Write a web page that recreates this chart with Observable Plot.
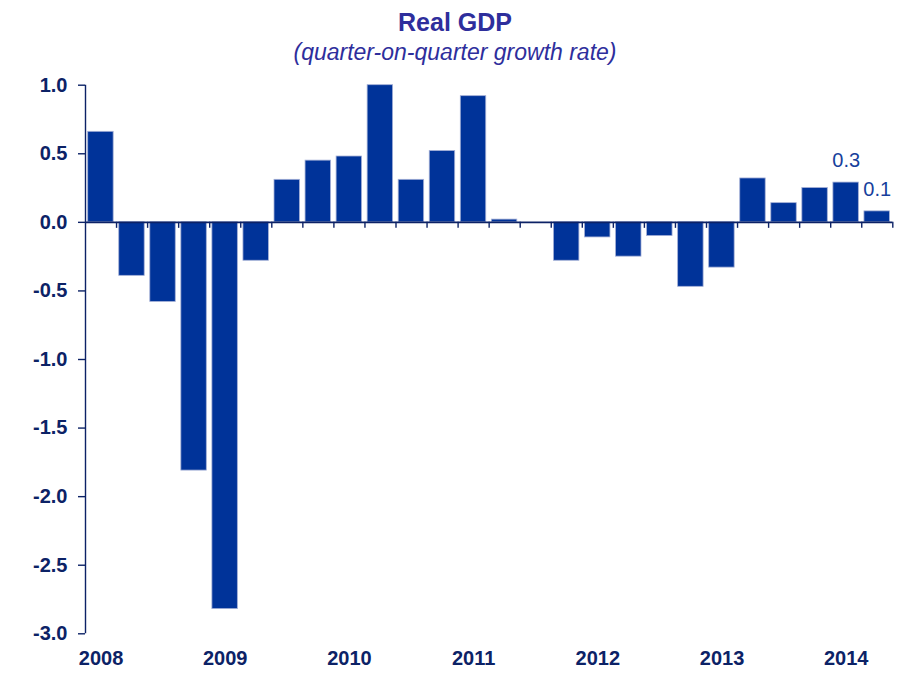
<!DOCTYPE html>
<html>
<head>
<meta charset="utf-8">
<script src="https://cdn.jsdelivr.net/npm/d3@7"></script>
<script src="https://cdn.jsdelivr.net/npm/@observablehq/plot@0.6"></script>
<style>
  html, body { margin: 0; padding: 0; background: #fff; }
  #wrap { position: relative; width: 902px; height: 673px; font-family: Arial, "Liberation Sans", sans-serif; }
  #title { position: absolute; left: 0; width: 910px; top: 6px; text-align: center; font-size: 25px; font-weight: bold; color: #2e2e9c; line-height: 32px; }
  #subtitle { position: absolute; left: 0; width: 910px; top: 37px; text-align: center; font-size: 23px; font-style: italic; color: #2e2e9c; line-height: 30px; }
  #chart { position: absolute; left: 0; top: 0; }
</style>
</head>
<body>
<div id="wrap">
  <div id="chart"></div>
  <div id="title">Real GDP</div>
  <div id="subtitle">(quarter-on-quarter growth rate)</div>
</div>
<script>
const quarters = [
  "2008Q1","2008Q2","2008Q3","2008Q4",
  "2009Q1","2009Q2","2009Q3","2009Q4",
  "2010Q1","2010Q2","2010Q3","2010Q4",
  "2011Q1","2011Q2","2011Q3","2011Q4",
  "2012Q1","2012Q2","2012Q3","2012Q4",
  "2013Q1","2013Q2","2013Q3","2013Q4",
  "2014Q1","2014Q2"
];
const growth = [
  0.66, -0.39, -0.58, -1.81,
  -2.82, -0.28, 0.31, 0.45,
  0.48, 1.00, 0.31, 0.52,
  0.92, 0.02, 0.00, -0.28,
  -0.11, -0.25, -0.10, -0.47,
  -0.33, 0.32, 0.14, 0.25,
  0.29, 0.08
];
const yearLabels = ["2008","2009","2010","2011","2012","2013","2014"];
const yTicks = [1.0, 0.5, 0.0, -0.5, -1.0, -1.5, -2.0, -2.5, -3.0];
const labelQuarters = ["2014Q1", "2014Q2"];
const labelTexts = ["0.3", "0.1"];

const data = quarters.map((q, i) => ({q, i, v: growth[i]}));
const boundaries = d3.range(1, quarters.length + 1);
const yearPos = yearLabels.map(y => quarters.indexOf(y + "Q1") + 0.5);
const labels = labelQuarters.map((q, k) => ({i: quarters.indexOf(q), v: growth[quarters.indexOf(q)], t: labelTexts[k]}));

const navy = "#0c2266";

const chart = Plot.plot({
  width: 902,
  height: 673,
  marginTop: 84.7,
  marginBottom: 39.7,
  marginLeft: 85,
  marginRight: 9.7,
  style: {fontFamily: "Arial, 'Liberation Sans', sans-serif", background: "transparent"},
  x: {type: "linear", domain: [0, quarters.length], axis: null, label: null},
  y: {domain: [-3, 1], axis: null, label: null},
  marks: [
    Plot.rectY(data, {
      x1: "i", x2: d => d.i + 1, y1: 0, y2: "v",
      insetLeft: 2.7, insetRight: 2.9,
      fill: "#003399", stroke: "#a3afd6", strokeWidth: 0.8
    }),
    Plot.ruleY([0], {stroke: navy, strokeWidth: 1.6}),
    Plot.ruleX(boundaries, {x: d => d, y1: 0, y2: 0, insetBottom: -6, stroke: navy, strokeWidth: 1.4}),
    Plot.ruleX([0], {stroke: navy, strokeWidth: 1.4}),
    Plot.axisY({
      ticks: yTicks, tickSize: 7, tickPadding: 11, tickFormat: d => d.toFixed(1), label: null,
      fontSize: 20, fontWeight: "bold", color: navy, stroke: navy, strokeWidth: 1.4
    }),
    Plot.axisX({
      ticks: yearPos, tickSize: 0, tickPadding: 16.8, label: null,
      tickFormat: (d) => yearLabels[yearPos.indexOf(d)],
      fontSize: 20, fontWeight: "bold", color: navy
    }),
    Plot.text(labels, {
      x: d => d.i + 0.5, y: "v", text: "t",
      dy: -22, fontSize: 20, fill: "#173f9c"
    })
  ]
});
document.getElementById("chart").appendChild(chart);
</script>
</body>
</html>
